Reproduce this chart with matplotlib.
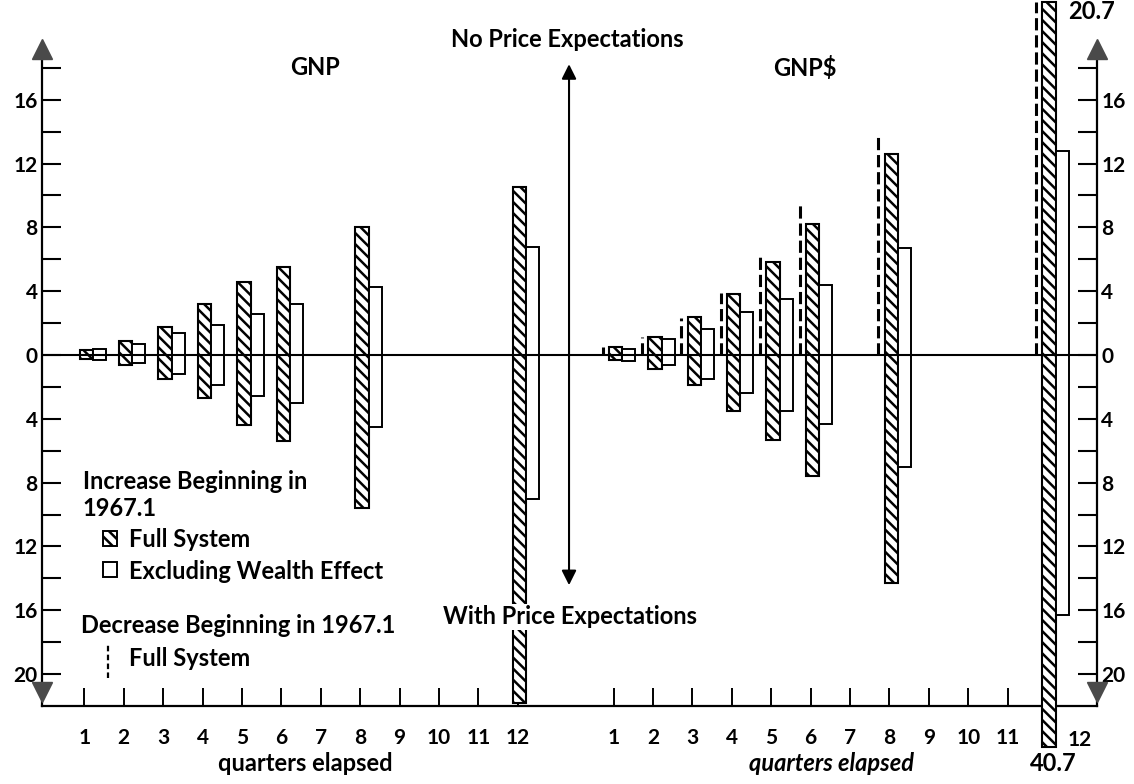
import matplotlib
matplotlib.use("Agg")
import matplotlib.pyplot as plt
from matplotlib.ticker import FixedLocator, FixedFormatter

plt.rcParams['font.family'] = ['Lato', 'DejaVu Sans']
plt.rcParams['font.weight'] = 'bold'
plt.rcParams['hatch.linewidth'] = 1.8

# --- dados ---
quarters = [1, 2, 3, 4, 5, 6, 8, 12]
tick_quarters = list(range(1, 13))

# GNP (painel esquerdo)
gnp_full_up = [0.3, 0.9, 1.75, 3.2, 4.6, 5.5, 8.0, 10.5]
gnp_full_down = [-0.25, -0.6, -1.5, -2.7, -4.4, -5.4, -9.6, -21.8]
gnp_excl_up = [0.4, 0.7, 1.4, 1.9, 2.6, 3.2, 4.25, 6.8]
gnp_excl_down = [-0.3, -0.5, -1.2, -1.9, -2.6, -3.0, -4.5, -9.0]

# GNP$ (painel direito)
gnpd_full_up = [0.5, 1.1, 2.4, 3.8, 5.8, 8.2, 12.6, 20.7]
gnpd_full_down = [-0.3, -0.85, -1.85, -3.5, -5.3, -7.6, -14.3, -40.7]
gnpd_excl_up = [0.4, 1.0, 1.6, 2.7, 3.5, 4.4, 6.7, 12.8]
gnpd_excl_down = [-0.35, -0.65, -1.5, -2.4, -3.5, -4.3, -7.0, -16.3]
gnpd_decrease = [0.5, 1.15, 2.3, 3.9, 6.2, 9.6, 13.7, 21.6]

y_major = [-20, -16, -12, -8, -4, 0, 4, 8, 12, 16]
y_minor = [-18, -14, -10, -6, -2, 2, 6, 10, 14, 18]

# --- escala / layout ---
X0, X1 = -0.076, 26.70      # limites do eixo x (unidades de trimestre)
Y0, Y1 = -22.0, 22.25
RIGHT = 13.43               # deslocamento do painel GNP$
TOP_BREAK, LOW_BREAK = 22.1, -24.6   # barras fora de escala
HATCH = '\\\\\\'
FS = 17


def shown(v):
    # valores fora da escala sao desenhados ate a borda
    if v > 20:
        return TOP_BREAK
    if v < Y0:
        return LOW_BREAK
    return v


fig = plt.figure(figsize=(11.34, 7.84), dpi=100)
ax = fig.add_axes([42 / 1134, 78 / 784, 1055 / 1134, 706 / 784])
ax.set_xlim(X0, X1)
ax.set_ylim(Y0, Y1)


def draw_panel(off, full_up, full_down, excl_up, excl_down):
    for q, fu, fd, eu, ed in zip(quarters, full_up, full_down, excl_up, excl_down):
        top, bot = shown(fu), shown(fd)
        ax.bar(q + off + 0.05, top - bot, bottom=bot, width=0.34, color='white',
               edgecolor='black', hatch=HATCH, lw=1.5, zorder=3, clip_on=False)
        ax.bar(q + off + 0.22, eu - ed, bottom=ed, width=0.33, align='edge',
               color='white', edgecolor='black', lw=1.4, zorder=3)


draw_panel(0, gnp_full_up, gnp_full_down, gnp_excl_up, gnp_excl_down)
draw_panel(RIGHT, gnpd_full_up, gnpd_full_down, gnpd_excl_up, gnpd_excl_down)

# queda a partir de 1967.1 (tracejado)
for q, v in zip(quarters, gnpd_decrease):
    ax.vlines(q + RIGHT - 0.28, 0, shown(v), colors='black', lw=2.2,
              linestyles=(0, (4, 1.6)), zorder=3, clip_on=False)

ax.axhline(0, color='black', lw=1.5, zorder=3.5)

# --- eixos ---
ax.spines['top'].set_visible(False)
for s in ['left', 'right']:
    ax.spines[s].set_bounds(Y0, 19.5)
    ax.spines[s].set_linewidth(1.6)
ax.spines['bottom'].set_linewidth(1.6)

ax.yaxis.set_major_locator(FixedLocator(y_major))
ax.yaxis.set_major_formatter(FixedFormatter([str(abs(v)) for v in y_major]))
ax.yaxis.set_minor_locator(FixedLocator(y_minor))
ax.tick_params(axis='y', which='both', direction='in', left=True, right=True,
               labelleft=True, labelright=True, length=14, width=1.5,
               labelsize=15, pad=3)

xt = tick_quarters + [q + RIGHT for q in tick_quarters]
xl = [str(q) for q in tick_quarters] + [str(q) for q in tick_quarters[:-1]] + ['']
ax.set_xticks(xt)
ax.set_xticklabels(xl)
ax.tick_params(axis='x', direction='in', length=13, width=1.4, labelsize=15, pad=16)

# setas nas pontas dos eixos verticais
for xs in [X0, X1]:
    ax.plot([xs], [19.15], marker='^', ms=15, color='#4a4a4a', clip_on=False, zorder=4)
    ax.plot([xs], [-21.15], marker='v', ms=15, color='#4a4a4a', clip_on=False, zorder=4)

# seta dupla central
ax.annotate('', xy=(13.30, -14.6), xytext=(13.30, 18.4),
            arrowprops=dict(arrowstyle='<|-|>', color='black', lw=1.5, mutation_scale=22))

# --- textos ---
ax.text(13.25, 19.75, 'No Price Expectations', ha='center', va='center', fontsize=FS)
ax.text(13.32, -16.4, 'With Price Expectations', ha='center', va='center', fontsize=FS,
        zorder=6, bbox=dict(facecolor='white', edgecolor='none', pad=1))
ax.text(6.85, 18.0, 'GNP', ha='center', va='center', fontsize=FS)
ax.text(19.29, 18.0, 'GNP$', ha='center', va='center', fontsize=FS)
ax.text(26.55, 21.5, '20.7', ha='center', va='center', fontsize=FS)
ax.text(26.27, -24.1, '12', ha='center', va='center', fontsize=15, clip_on=False)
ax.text(25.58, -25.6, '40.7', ha='center', va='center', fontsize=FS, clip_on=False)
ax.text(6.6, -25.6, 'quarters elapsed', ha='center', va='center', fontsize=FS, clip_on=False)
ax.text(19.95, -25.6, 'quarters elapsed', ha='center', va='center', fontsize=FS,
        style='italic', clip_on=False)

# --- legenda desenhada a mao ---
ax.text(0.96, -7.94, 'Increase Beginning in', ha='left', va='center', fontsize=FS)
ax.text(0.96, -9.6, '1967.1', ha='left', va='center', fontsize=FS)
ax.bar(1.47, 0.94, bottom=-12.0, width=0.36, align='edge', color='white',
       edgecolor='black', hatch=HATCH, lw=1.4)
ax.text(2.13, -11.56, 'Full System', ha='left', va='center', fontsize=FS)
ax.bar(1.47, 0.94, bottom=-13.94, width=0.36, align='edge', color='white',
       edgecolor='black', lw=1.4)
ax.text(2.13, -13.56, 'Excluding Wealth Effect', ha='left', va='center', fontsize=FS)
ax.text(0.91, -16.94, 'Decrease Beginning in 1967.1', ha='left', va='center', fontsize=FS)
ax.vlines(1.6, -20.25, -18.2, colors='black', lw=1.6, linestyles=(0, (2.5, 1.5)))
ax.text(2.13, -19.0, 'Full System', ha='left', va='center', fontsize=FS)

fig.savefig('out.png', dpi=100)
plt.close(fig)
